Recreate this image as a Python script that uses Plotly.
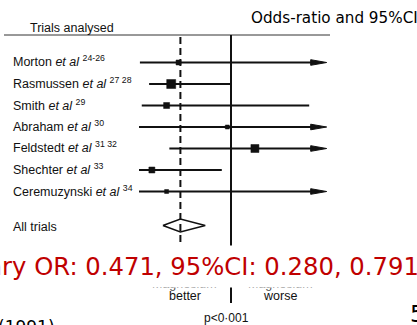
import plotly.graph_objects as go

# ---------------- data ----------------
trials = ["Morton", "Rasmussen", "Smith", "Abraham", "Feldstedt", "Shechter", "Ceremuzynski"]
refs = ["24-26", "27 28", "29", "30", "31 32", "33", "34"]
odds_ratio = [0.43, 0.35, 0.30, 0.96, 1.26, 0.14, 0.30]
ci_low = [0.01, 0.11, 0.03, 0.00, 0.33, 0.00, 0.00]
ci_high = [None, 0.99, 1.85, None, None, 0.90, None]   # None = runs off the scale (arrow)
summary_label = "All trials"
summary_or = 0.45
summary_low = 0.26
summary_high = 0.72
summary_text = "Summary OR: 0.471, 95%CI: 0.280, 0.791"
header_left = "Trials analysed"
header_right = "Odds-ratio and 95%CI"
side_labels = ["better", "worse"]
side_prefix = "Magnesium"
p_text = "p<0·001"

# ---------------- layout / style ----------------
W, H = 417, 325
X_ONE_PX = 231.0        # pixel of OR = 1
PX_PER_UNIT = 92.0
CLIP_MAX = 2.04         # right end of the drawn scale
ROW0, ROW_STEP = 62.5, 21.5
SUMMARY_ROW = 225.5
marker_px = [5, 9, 6, 4, 8, 6, 4]
INK = "#111111"
LABEL_FONT = "Liberation Sans, Arial, sans-serif"
SLIDE_FONT = "DejaVu Sans, Verdana, sans-serif"

x_range = [(0 - X_ONE_PX) / PX_PER_UNIT + 1, (W - X_ONE_PX) / PX_PER_UNIT + 1]
def px2x(px):
    return (px - X_ONE_PX) / PX_PER_UNIT + 1

rows = [ROW0 + i * ROW_STEP for i in range(len(trials))]

fig = go.Figure()

# CI lines and arrowheads
head_len = 16 / PX_PER_UNIT
head_half = 2.8
for i in range(len(trials)):
    y = rows[i]
    end = ci_high[i] if ci_high[i] is not None else CLIP_MAX - head_len * 0.5
    fig.add_trace(go.Scatter(x=[ci_low[i], end], y=[y, y], mode="lines",
                             line=dict(color=INK, width=1.8), hoverinfo="skip"))
    if ci_high[i] is None:
        fig.add_trace(go.Scatter(
            x=[CLIP_MAX - head_len, CLIP_MAX, CLIP_MAX - head_len, CLIP_MAX - head_len],
            y=[y - head_half, y, y + head_half, y - head_half],
            mode="lines", fill="toself", fillcolor=INK,
            line=dict(color=INK, width=1), hoverinfo="skip"))

# point estimates
fig.add_trace(go.Scatter(x=odds_ratio, y=rows, mode="markers",
                         marker=dict(symbol="square", size=marker_px, color=INK,
                                     opacity=1, line=dict(width=0.5, color=INK)),
                         hoverinfo="skip"))

# summary diamond
dh = 6.5
fig.add_trace(go.Scatter(
    x=[summary_low, summary_or, summary_high, summary_or, summary_low],
    y=[SUMMARY_ROW, SUMMARY_ROW - dh, SUMMARY_ROW, SUMMARY_ROW + dh, SUMMARY_ROW],
    mode="lines", fill="toself", fillcolor="white",
    line=dict(color=INK, width=1.5), hoverinfo="skip"))

shapes = [
    # top rule
    dict(type="line", xref="x", yref="y", x0=px2x(4), x1=px2x(330), y0=35, y1=35,
         line=dict(color="#333", width=1)),
    # no-effect line
    dict(type="line", xref="x", yref="y", x0=1, x1=1, y0=35, y1=303,
         line=dict(color=INK, width=2)),
    # summary dashed line
    dict(type="line", xref="x", yref="y", x0=summary_or, x1=summary_or, y0=37, y1=252,
         line=dict(color=INK, width=2, dash="7px,4px")),
]

ann = []
def add_text(text, px, py, size, font=LABEL_FONT, color=INK, xanchor="left", **kw):
    ann.append(dict(text=text, x=px / W, y=1 - py / H, xref="paper", yref="paper",
                    xanchor=xanchor, yanchor="middle", showarrow=False,
                    font=dict(family=font, size=size, color=color), **kw))

add_text(header_left, 28, 27.5, 12.5)
add_text(header_right, 248.5, 18, 15.2, font=SLIDE_FONT, color="#000")
for i, name in enumerate(trials):
    add_text(f"{name} <i>et al</i> <sup>{refs[i]}</sup>", 11, rows[i] - 1, 12.5)
add_text(summary_label, 11, SUMMARY_ROW + 1, 12.5)

add_text(side_prefix, 184, 284, 12.5, color="#555", xanchor="center")
add_text(side_prefix, 280, 284, 12.5, color="#555", xanchor="center")
add_text(side_labels[0], 184.5, 296, 12.5, xanchor="center")
add_text(side_labels[1], 280, 296, 12.5, xanchor="center")
add_text(p_text, 226.5, 318, 12, xanchor="center")

add_text(summary_text, -98, 266, 24.3, font=SLIDE_FONT, color="#c00000",
         bgcolor="white", borderpad=6)
add_text("(1991)", 57, 327, 17, font=SLIDE_FONT, color="#000", xanchor="right")
add_text("5", 408, 314, 23, font=SLIDE_FONT, color="#000")

fig.update_layout(
    width=W, height=H, margin=dict(l=0, r=0, t=0, b=0),
    paper_bgcolor="white", plot_bgcolor="white", showlegend=False,
    xaxis=dict(range=x_range, visible=False, fixedrange=True),
    yaxis=dict(range=[H, 0], visible=False, fixedrange=True),
    shapes=shapes, annotations=ann,
)

fig.write_html("out.html", config={"displayModeBar": False},
               post_script="document.body.style.margin='0';document.body.style.overflow='hidden';")
